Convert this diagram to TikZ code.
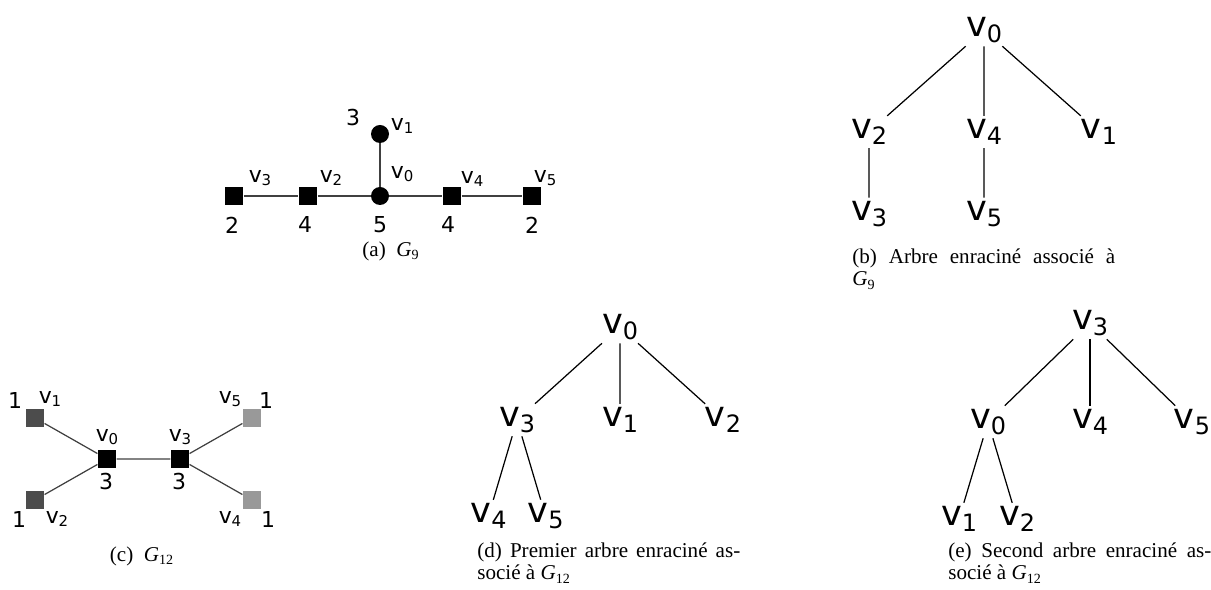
\documentclass[tikz,border=0pt]{standalone}
\usepackage{fontspec}
\setmainfont{Liberation Serif}
\newfontfamily\lblfont{DejaVu Sans}

\definecolor{leafdark}{gray}{0.3}
\definecolor{leaflight}{gray}{0.6}
\newcommand{\vlab}[1]{v\raisebox{-0.15em}{\scalebox{0.68}{#1}}}

\tikzset{
	glbl/.style={font=\lblfont\fontsize{12.5}{14}\selectfont, inner sep=0pt},
	tlbl/.style={font=\lblfont\fontsize{20}{22}\selectfont, inner sep=2pt},
	vdot/.style={circle, fill=black, minimum size=0.36cm, inner sep=0pt},
	vsq/.style={rectangle, fill=#1, minimum size=0.37cm, inner sep=0pt},
	vsq/.default=black,
	gedge/.style={draw=black!75, line width=0.7pt},
	capt/.style={font=\fontsize{12}{13}\selectfont, inner sep=0pt},
	capbox/.style={capt, text width=5.26cm, align=justify, anchor=north west}
}

\begin{document}
\begin{tikzpicture}[x=0.02cm, y=-0.02cm,
		edge from parent/.style={draw, line width=0.7pt}]
	\useasboundingbox (0,0) rectangle (1211,590);

	% (a) G9
	\node[vsq] (a3) at (234,196) {};
	\node[vsq] (a2) at (308,196) {};
	\node[vdot] (a0) at (380,196) {};
	\node[vdot] (a1) at (380,134) {};
	\node[vsq] (a4) at (452,196) {};
	\node[vsq] (a5) at (532,196) {};
	\draw[gedge] (a3) -- (a2) -- (a0) -- (a4) -- (a5);
	\draw[gedge] (a0) -- (a1);
	\node[glbl] (la3) at (260,178) {\vlab{3}};
	\node[glbl] (la2) at (331,178) {\vlab{2}};
	\node[glbl] (la0) at (402,174) {\vlab{0}};
	\node[glbl] (la1) at (402,126) {\vlab{1}};
	\node[glbl] (la4) at (472,179) {\vlab{4}};
	\node[glbl] (la5) at (545,178) {\vlab{5}};
	\node[glbl] (na1) at (353,118) {3};
	\node[glbl] (na3) at (232,225) {2};
	\node[glbl] (na2) at (305,225) {4};
	\node[glbl] (na0) at (380,225) {5};
	\node[glbl] (na4) at (448,225) {4};
	\node[glbl] (na5) at (532,225) {2};
	\node[capt] (capa) at (391,251) {(a)\hspace{0.5em}\textit{G}\textsubscript{9}};

	% (b) arbre de G9
	\node[tlbl] (b0) at (984,30) {\vlab{0}}
		[level 1/.style={sibling distance=2.3cm, level distance=2.04cm},
		 level 2/.style={level distance=1.64cm}]
		child {node[tlbl] (b2) {\vlab{2}}
			child {node[tlbl] (b3) {\vlab{3}}}
		}
		child {node[tlbl] (b4) {\vlab{4}}
			child {node[tlbl] (b5) {\vlab{5}}}
		}
		child {node[tlbl] (b1) {\vlab{1}}};
	\node[capbox] (capb) at (852,248) {(b) Arbre enraciné associé à\linebreak \textit{G}\textsubscript{9}};

	% (c) G12
	\node[vsq=leafdark] (c1) at (35,418) {};
	\node[vsq=leafdark] (c2) at (35,500) {};
	\node[vsq] (c0) at (107,459) {};
	\node[vsq] (c3) at (180,459) {};
	\node[vsq=leaflight] (c5) at (252,418) {};
	\node[vsq=leaflight] (c4) at (252,500) {};
	\draw[gedge] (c1) -- (c0) -- (c3) -- (c5);
	\draw[gedge] (c2) -- (c0);
	\draw[gedge] (c3) -- (c4);
	\node[glbl] (nc1) at (15,400) {1};
	\node[glbl] (lc1) at (50,399) {\vlab{1}};
	\node[glbl] (lc0) at (107,437) {\vlab{0}};
	\node[glbl] (nc0) at (106,482) {3};
	\node[glbl] (lc3) at (180,437) {\vlab{3}};
	\node[glbl] (nc3) at (179,482) {3};
	\node[glbl] (lc5) at (230,399) {\vlab{5}};
	\node[glbl] (nc5) at (266,400) {1};
	\node[glbl] (nc2) at (19,519) {1};
	\node[glbl] (lc2) at (57,519) {\vlab{2}};
	\node[glbl] (lc4) at (230,519) {\vlab{4}};
	\node[glbl] (nc4) at (268,519) {1};
	\node[capt] (capc) at (142,556) {(c)\hspace{0.5em}\textit{G}\textsubscript{12}};

	% (d) premier arbre de G12
	\node[tlbl] (d0) at (620,327) {\vlab{0}}
		[level 1/.style={sibling distance=2.06cm, level distance=1.86cm},
		 level 2/.style={sibling distance=1.14cm, level distance=1.92cm}]
		child {node[tlbl] (d3) {\vlab{3}}
			child {node[tlbl] (d4) {\vlab{4}}}
			child {node[tlbl] (d5) {\vlab{5}}}
		}
		child {node[tlbl] (d1) {\vlab{1}}}
		child {node[tlbl] (d2) {\vlab{2}}};
	\node[capbox] (capd) at (477,542) {(d) Premier arbre enraciné as-\linebreak socié à \textit{G}\textsubscript{12}};

	% (e) second arbre de G12
	\node[tlbl] (e3) at (1090,323) {\vlab{3}}
		[level 1/.style={sibling distance=2.04cm, level distance=1.98cm},
		 level 2/.style={sibling distance=1.16cm, level distance=1.94cm}]
		child {node[tlbl] (e0) {\vlab{0}}
			child {node[tlbl] (e1) {\vlab{1}}}
			child {node[tlbl] (e2) {\vlab{2}}}
		}
		child {node[tlbl] (e4) {\vlab{4}}}
		child {node[tlbl] (e5) {\vlab{5}}};
	\node[capbox] (cape) at (948,542) {(e) Second arbre enraciné as-\linebreak socié à \textit{G}\textsubscript{12}};
\end{tikzpicture}
\end{document}
